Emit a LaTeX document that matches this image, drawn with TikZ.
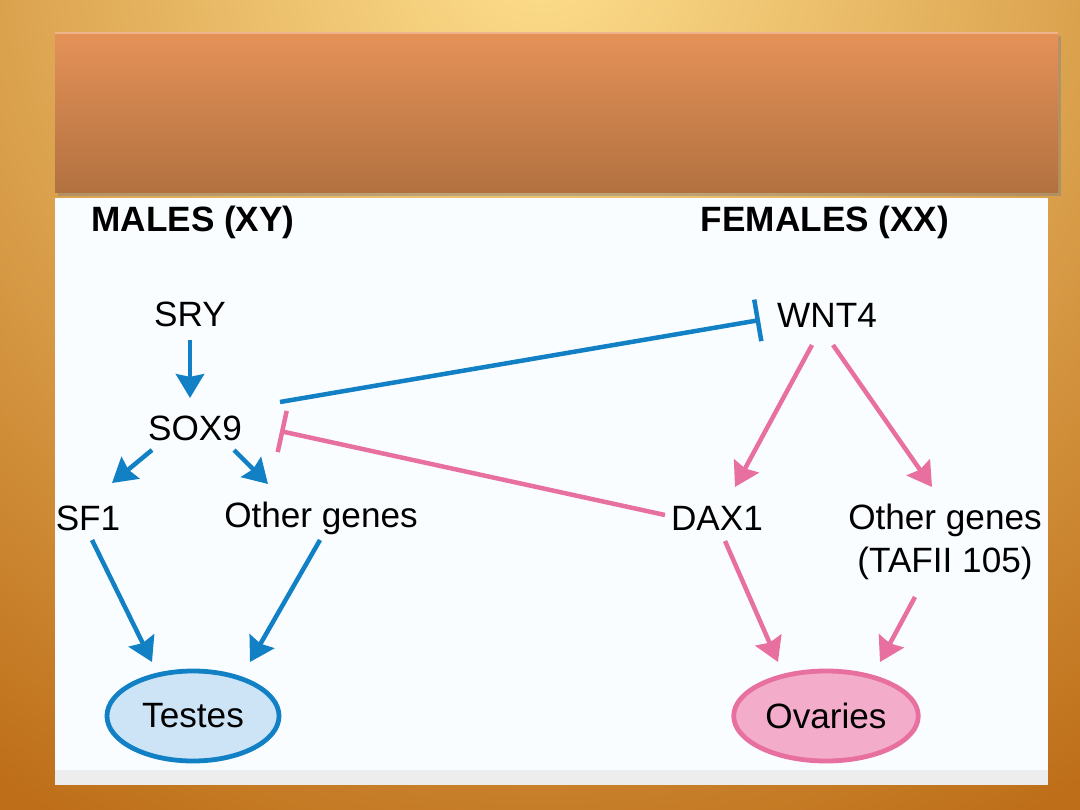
\documentclass[tikz,border=0pt]{standalone}
\usepackage{fontspec}
\setmainfont{Liberation Sans}
\usepackage{xcolor}
\usepackage{tikz}
\usetikzlibrary{arrows.meta, positioning, shapes.geometric, shadows}

\definecolor{malblue}{RGB}{18,128,196}
\definecolor{fempink}{RGB}{232,112,160}
\definecolor{testfill}{RGB}{205,228,246}
\definecolor{ovafill}{RGB}{243,172,202}
\definecolor{goldlight}{RGB}{254,224,142}
\definecolor{golddark}{RGB}{190,110,24}
\definecolor{bartop}{RGB}{229,146,88}
\definecolor{barbot}{RGB}{178,113,64}

\begin{document}
\begin{tikzpicture}[
  x=0.025cm, y=-0.025cm,
  gene/.style={font=\fontsize{25}{31}\selectfont, align=center, inner sep=0pt},
  head/.style={font=\bfseries\fontsize{25}{30}\selectfont, inner sep=0pt},
  organ/.style={ellipse, line width=3.4pt, minimum width=4.3cm, minimum height=2.25cm, font=\fontsize{25}{30}\selectfont},
  pro/.style={-{Stealth[length=17pt, width=20pt, inset=2pt]}, line width=3.2pt},
  inh/.style={-{Bar[width=30pt, line width=3.2pt]}, line width=3.2pt}
]
\useasboundingbox (0,0) rectangle (1080,810);

% slide background
\fill[golddark] (0,0) rectangle (1080,810);
\begin{scope}
\clip (0,0) rectangle (1080,810);
\shade[inner color=goldlight, outer color=golddark] (540,-60) circle (1000);
\end{scope}
\shade[top color=bartop, bottom color=barbot, drop shadow={opacity=0.45, shadow xshift=2pt, shadow yshift=-3pt}]
  (55,32) rectangle (1058,192);
\draw[bartop!70!white, line width=1pt] (55,33) -- (1058,33);
\fill[white!98!cyan] (55,198) rectangle (1048,785);
\fill[black!7] (55,770) rectangle (1048,785);

% headings
\node[head] (males) at (193,222) {MALES (XY)};
\node[head] (females) at (825,222) {FEMALES (XX)};

% genes
\node[gene] (sry) at (190,314) {SRY};
\node[gene] (sox9) at (195,428) {SOX9};
\node[gene] (sf1) at (88,518) {SF1};
\node[gene] (othm) at (321,518) {Other genes};
\node[gene] (wnt4) at (827,315) {WNT4};
\node[gene] (dax1) at (717,518) {DAX1};
\node[gene] (othf) at (945,542) {Other genes\\(TAFII 105)};

% gonads
\node[organ, draw=malblue, fill=testfill] (testes) at (193,716) {Testes};
\node[organ, draw=fempink, fill=ovafill, minimum width=4.4cm] (ovaries) at (826,716) {Ovaries};

% male pathway
\draw[pro, malblue] ([shift={(0,26)}]sry.center) -- ([shift={(-5,-30)}]sox9.center);
\draw[pro, malblue] ([shift={(-43,22)}]sox9.center) -- ([shift={(24,-35)}]sf1.center);
\draw[pro, malblue] ([shift={(39,22)}]sox9.center) -- ([shift={(-53,-34)}]othm.center);
\draw[pro, malblue] ([shift={(4,22)}]sf1.center) -- ([shift={(-41,-54)}]testes.center);
\draw[pro, malblue] ([shift={(-1,22)}]othm.center) -- ([shift={(57,-54)}]testes.center);
\draw[inh, malblue] ([shift={(85,-26)}]sox9.center) -- ([shift={(-67,5)}]wnt4.center);

% female pathway
\draw[pro, fempink] ([shift={(-15,30)}]wnt4.center) -- ([shift={(18,-31)}]dax1.center);
\draw[pro, fempink] ([shift={(6,30)}]wnt4.center) -- ([shift={(-13,-55)}]othf.center);
\draw[pro, fempink] ([shift={(8,23)}]dax1.center) -- ([shift={(-48,-54)}]ovaries.center);
\draw[pro, fempink] ([shift={(-30,55)}]othf.center) -- ([shift={(54,-54)}]ovaries.center);
\draw[inh, fempink] ([shift={(-52,-3)}]dax1.center) -- ([shift={(85,3)}]sox9.center);
\end{tikzpicture}
\end{document}
